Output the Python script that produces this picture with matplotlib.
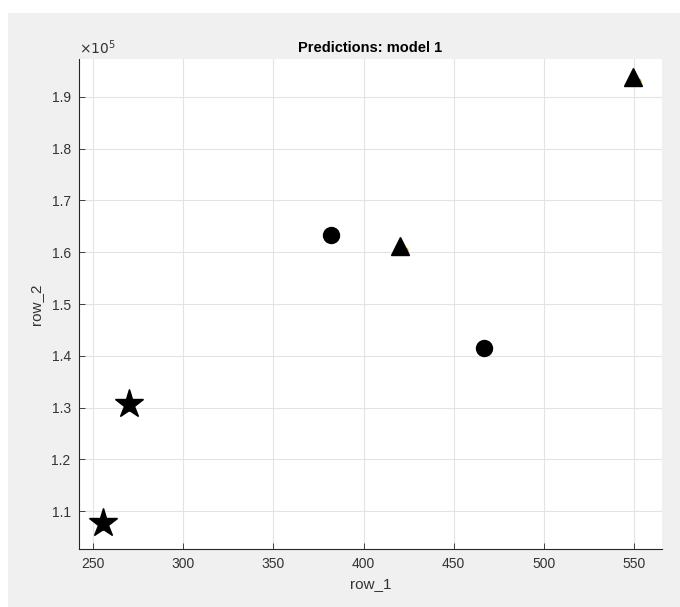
import matplotlib.pyplot as plt
import numpy as np
from matplotlib.patches import Rectangle
from matplotlib.ticker import FuncFormatter
import matplotlib.transforms as mtransforms

plt.rcParams['font.family'] = ['Liberation Sans', 'DejaVu Sans']

# predicted points per class
star_x = [255.5, 270]
star_y = [107680, 130700]
circle_x = [382, 467]
circle_y = [163300, 141500]
tri_x = [420, 549.5]
tri_y = [161300, 193900]

xticks = [250, 300, 350, 400, 450, 500, 550]
yticks = [110000, 120000, 130000, 140000, 150000, 160000, 170000, 180000, 190000]

fig = plt.figure(figsize=(6.8, 6.07), dpi=100, facecolor='white')
# grey panel behind the axes
fig.patches.append(Rectangle((8 / 680, 0), 1, (607 - 13) / 607, transform=fig.transFigure,
                             facecolor='#f0f0f0', edgecolor='none', zorder=-10))

ax = fig.add_axes([79 / 680, 58 / 607, 583 / 680, 490 / 607])
ax.set_zorder(1)
ax.set_facecolor('white')

# group colours peeking out behind the black markers
def shifted(dx, dy):
    return ax.transData + mtransforms.ScaledTranslation(dx / 100, dy / 100, fig.dpi_scale_trans)

ax.plot(star_x, star_y, 'o', ms=4, color='#0072bd', transform=shifted(0, -4), zorder=2)
ax.plot(circle_x, circle_y, 'o', ms=4, color='#d95319', transform=shifted(5, -1), zorder=2)
ax.plot(tri_x, tri_y, 'o', ms=3.5, color='#edb120', transform=shifted(5, -4), zorder=2)

ax.plot(star_x, star_y, '*', ms=21, color='black', zorder=3)
ax.plot(circle_x, circle_y, 'o', ms=11.5, color='black', zorder=3)
ax.plot(tri_x, tri_y, '^', ms=13, color='black', zorder=3)

ax.set_xlim(242.24, 565.5)
ax.set_ylim(102660, 197340)
ax.set_xticks(xticks)
ax.set_yticks(yticks)
ax.yaxis.set_major_formatter(FuncFormatter(lambda v, p: '%.1f' % (v / 1e5)))

ax.grid(True, color='#e3e3e3', linewidth=0.8)
ax.set_axisbelow(True)
for s in ['top', 'right']:
    ax.spines[s].set_visible(False)
for s in ['left', 'bottom']:
    ax.spines[s].set_color('#262626')
    ax.spines[s].set_linewidth(0.8)
ax.tick_params(direction='in', length=4, width=0.6, color='#262626',
               labelsize=10, labelcolor='#333333', pad=6)

ax.set_xlabel('row_1', fontsize=11, color='#333333', labelpad=4)
ax.set_ylabel('row_2', fontsize=11, color='#333333', labelpad=6)
ax.set_title('Predictions: model 1', fontsize=10.5, fontweight='bold', color='black', pad=5)
ax.text(0.0, 1.004, r'$\times10^{5}$', transform=ax.transAxes, fontsize=10,
        color='#333333', ha='left', va='bottom')

fig.savefig('out.png', dpi=100, facecolor=fig.get_facecolor())
